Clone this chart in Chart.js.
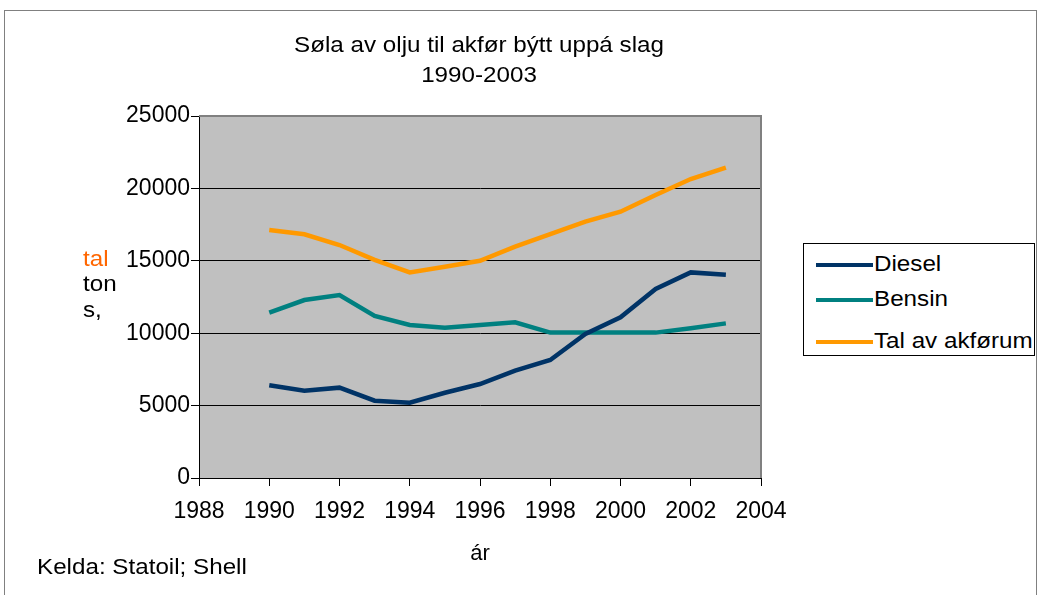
<!DOCTYPE html>
<html>
<head>
<meta charset="utf-8">
<script src="https://cdn.jsdelivr.net/npm/chart.js@4"></script>
<style>
  body { margin: 0; background: #fff; font-family: "Liberation Sans", Arial, sans-serif; }
  #wrap { position: relative; width: 1042px; height: 595px; overflow: hidden; }
  #frame { position: absolute; left: 4px; top: 10px; width: 1033px; height: 590px; border: 1px solid #808080; box-sizing: border-box; }
  canvas { position: absolute; left: 0; top: 0; }
  .txt { position: absolute; white-space: nowrap; color: #000; font-size: 22px; transform: scaleX(1.1); transform-origin: left center; }
  .ctr { transform-origin: center center; }
  #legend { position: absolute; left: 803px; top: 243px; width: 232px; height: 113px; border: 1px solid #000; box-sizing: border-box; background: #fff; }
  .item { position: absolute; left: 12px; height: 24px; line-height: 24px; font-size: 22px; white-space: nowrap; }
  .item span.sw { display: inline-block; width: 57px; height: 4px; vertical-align: middle; margin-right: 1px; }
  .item span.lb { display: inline-block; transform: scaleX(1.1); transform-origin: left center; }
</style>
</head>
<body>
<div id="wrap">
  <div id="frame"></div>
  <canvas id="chart" width="1042" height="595"></canvas>
  <div class="txt ctr" style="left:0;width:958px;text-align:center;top:32px;">Søla av olju til akfør býtt uppá slag</div>
  <div class="txt ctr" style="left:0;width:958px;text-align:center;top:62px;">1990-2003</div>
  <div class="txt" style="left:83px;top:246px;color:#ff6600;">tal</div>
  <div class="txt" style="left:83px;top:271px;">ton</div>
  <div class="txt" style="left:83px;top:297px;">s,</div>
  <div class="txt" style="left:37px;top:554px;">Kelda: Statoil; Shell</div>
  <div id="legend"></div>
</div>
<script>
// ár
const years = [1990, 1991, 1992, 1993, 1994, 1995, 1996, 1997, 1998, 1999, 2000, 2001, 2002, 2003];
// tons
const diesel = [6400, 6030, 6240, 5340, 5200, 5890, 6490, 7410, 8150, 9950, 11100, 13050, 14200, 14040];
const bensin = [11420, 12290, 12640, 11190, 10570, 10380, 10570, 10750, 10040, 10040, 10040, 10040, 10340, 10680];
const talAvAkforum = [17130, 16830, 16090, 15060, 14200, 14590, 15000, 15980, 16850, 17700, 18390, 19550, 20650, 21430];

const seriesNames = ['Diesel', 'Bensin', 'Tal av akførum'];
const seriesColors = ['#003366', '#008080', '#ff9900'];
const seriesData = [diesel, bensin, talAvAkforum];

const xTicks = [1988, 1990, 1992, 1994, 1996, 1998, 2000, 2002, 2004];
const yTicks = [0, 5000, 10000, 15000, 20000, 25000];

const fontFam = '"Liberation Sans", Arial, sans-serif';

// grátt bakgrund í teknileikinum
const plotBg = {
    id: 'plotBg',
    beforeDraw(chart) {
        const a = chart.chartArea;
        const ctx = chart.ctx;
        ctx.save();
        ctx.fillStyle = '#c0c0c0';
        ctx.fillRect(a.left, a.top, a.right - a.left, a.bottom - a.top);
        ctx.restore();
    },
    afterDatasetsDraw(chart) {
        const a = chart.chartArea;
        const ctx = chart.ctx;
        ctx.save();
        ctx.strokeStyle = '#808080';
        ctx.lineWidth = 2;
        ctx.beginPath();
        ctx.moveTo(a.left, a.top);
        ctx.lineTo(a.right, a.top);
        ctx.lineTo(a.right, a.bottom);
        ctx.stroke();
        ctx.restore();
    }
};

const datasets = seriesData.map((vals, i) => ({
    label: seriesNames[i],
    data: vals.map((v, j) => ({ x: years[j], y: v })),
    borderColor: seriesColors[i],
    backgroundColor: seriesColors[i],
    borderWidth: 4.5,
    pointRadius: 0,
    tension: 0,
    fill: false
}));

const ctx = document.getElementById('chart').getContext('2d');
const chart = new Chart(ctx, {
    type: 'line',
    data: { datasets: datasets },
    plugins: [plotBg],
    options: {
        responsive: false,
        animation: false,
        layout: { padding: { left: 0, top: 116, right: 281, bottom: 28 } },
        plugins: {
            legend: { display: false },
            title: { display: false },
            tooltip: { enabled: false }
        },
        scales: {
            x: {
                type: 'linear',
                min: xTicks[0],
                max: xTicks[xTicks.length - 1],
                afterBuildTicks(scale) { scale.ticks = xTicks.map(v => ({ value: v })); },
                afterFit(scale) { scale.height = 89; },
                ticks: {
                    color: '#000',
                    font: { family: fontFam, size: 23 },
                    padding: 12,
                    maxRotation: 0,
                    callback: v => String(v)
                },
                grid: { drawOnChartArea: false, drawTicks: true, tickLength: 8, color: '#000' },
                border: { color: '#000', width: 1 },
                title: {
                    display: true,
                    text: 'ár',
                    color: '#000',
                    font: { family: fontFam, size: 22 },
                    padding: 0
                }
            },
            y: {
                min: 0,
                max: 25000,
                afterBuildTicks(scale) { scale.ticks = yTicks.map(v => ({ value: v })); },
                afterFit(scale) { scale.width = 199; },
                ticks: {
                    color: '#000',
                    font: { family: fontFam, size: 23 },
                    padding: 1,
                    callback: v => String(v)
                },
                grid: { color: '#000', lineWidth: 1, tickLength: 8 },
                border: { color: '#000', width: 1 }
            }
        }
    }
});

// legend
const legend = document.getElementById('legend');
const rowTops = [8, 43, 85];
seriesNames.forEach((name, i) => {
    const d = document.createElement('div');
    d.className = 'item';
    d.style.top = rowTops[i] + 'px';
    d.innerHTML = '<span class="sw" style="background:' + seriesColors[i] + '"></span><span class="lb">' + name + '</span>';
    legend.appendChild(d);
});
</script>
</body>
</html>
